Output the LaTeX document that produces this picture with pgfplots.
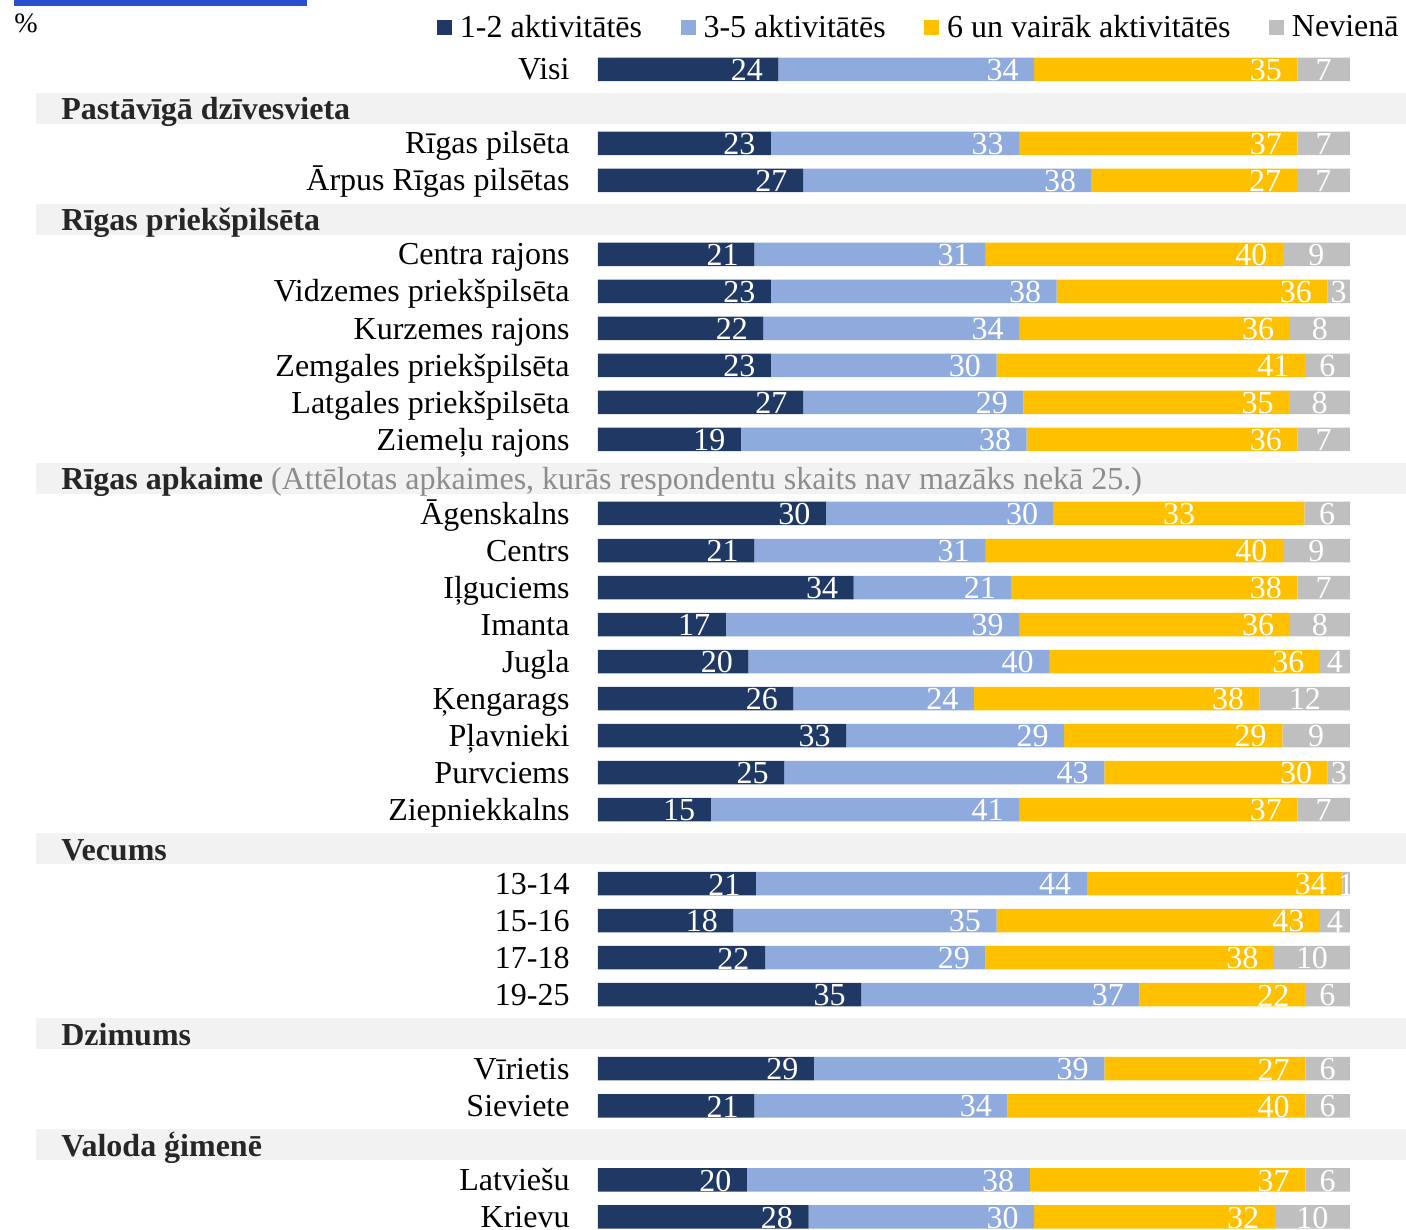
\documentclass[border=0pt]{standalone}
\usepackage{fontspec}
\setmainfont{Liberation Serif}
\usepackage{pgfplots}
\usepackage{pgfplotstable}
\pgfplotsset{compat=1.18}

\definecolor{cA}{HTML}{203864}
\definecolor{cB}{HTML}{8FAADC}
\definecolor{cC}{HTML}{FFC000}
\definecolor{cD}{HTML}{BFBFBF}
\definecolor{band}{HTML}{F2F2F2}
\definecolor{hcol}{HTML}{262626}
\definecolor{notecol}{HTML}{8C8C8C}
\definecolor{topblue}{HTML}{2A50D2}

\newcommand\mainfs{\fontsize{16pt}{19pt}\selectfont}
\newcommand\rsum{(\thisrow{a}+\thisrow{b}+\thisrow{c}+\thisrow{d})}

\pgfplotstableread{
r a b c d m
0 24 34 35 7 0
2 23 33 37 7 0
3 27 38 27 7 0
5 21 31 40 9 0
6 23 38 36 3 0
7 22 34 36 8 0
8 23 30 41 6 0
9 27 29 35 8 0
10 19 38 36 7 0
12 30 30 33 6 1
13 21 31 40 9 0
14 34 21 38 7 0
15 17 39 36 8 0
16 20 40 36 4 0
17 26 24 38 12 0
18 33 29 29 9 0
19 25 43 30 3 0
20 15 41 37 7 0
22 21 44 34 1 0
23 18 35 43 4 0
24 22 29 38 10 0
25 35 37 22 6 0
27 29 39 27 6 0
28 21 34 40 6 0
30 20 38 37 6 0
31 28 30 32 10 0
}\data

\pgfplotsset{
  base/.style={
    scale only axis, width=376pt, height=614.5pt,
    xmin=0, xmax=100, ymin=-1.872, ymax=31.33, y dir=reverse,
    clip=false, axis line style={draw=none}, tick style={draw=none},
    xtick=\empty,
    /pgf/number format/assume math mode=true,
  }
}

\begin{document}
\begin{tikzpicture}
\begin{axis}[base,
  xbar stacked, bar width=11.75pt,
  ytick={0,2,3,5,6,7,8,9,10,12,13,14,15,16,17,18,19,20,22,23,24,25,27,28,30,31},
  yticklabels={Visi,{Rīgas pilsēta},{Ārpus Rīgas pilsētas},{Centra rajons},{Vidzemes priekšpilsēta},{Kurzemes rajons},{Zemgales priekšpilsēta},{Latgales priekšpilsēta},{Ziemeļu rajons},Āgenskalns,Centrs,Iļguciems,Imanta,Jugla,Ķengarags,Pļavnieki,Purvciems,Ziepniekkalns,13-14,15-16,17-18,19-25,Vīrietis,Sieviete,Latviešu,Krievu},
  yticklabel style={font=\mainfs, text=black, anchor=base east, inner sep=0pt, xshift=-14pt, yshift=-5.3pt},
  legend columns=4,
  legend image code/.code={\fill[#1] (0pt,-3.75pt) rectangle (7.5pt,3.75pt);},
  legend style={at={(-0.2141,0.9776)}, anchor=west, draw=none, fill=none,
    inner sep=0pt, outer sep=0pt, font=\mainfs,
    nodes={inner sep=0pt},
    /tikz/every odd column/.append style={column sep=4pt},
    /tikz/every even column/.append style={column sep=19.2pt}},
]
% header bands
\fill[band] (axis cs:-74.73,0.63) rectangle (axis cs:107.45,1.47);
\fill[band] (axis cs:-74.73,3.63) rectangle (axis cs:107.45,4.47);
\fill[band] (axis cs:-74.73,10.63) rectangle (axis cs:107.45,11.47);
\fill[band] (axis cs:-74.73,20.63) rectangle (axis cs:107.45,21.47);
\fill[band] (axis cs:-74.73,25.63) rectangle (axis cs:107.45,26.47);
\fill[band] (axis cs:-74.73,28.63) rectangle (axis cs:107.45,29.47);
% top decoration
\fill[topblue] (axis cs:-77.66,-1.872) rectangle (axis cs:-38.70,-1.71);
\coordinate (BL) at (axis cs:-79.52,31.33);
\coordinate (TR) at (axis cs:107.45,-1.872);

\addplot[fill=cA, draw=none] table[x expr={100*\thisrow{a}/\rsum}, y=r]{\data};
\addplot[fill=cB, draw=none] table[x expr={100*\thisrow{b}/\rsum}, y=r]{\data};
\addplot[fill=cC, draw=none] table[x expr={100*\thisrow{c}/\rsum}, y=r]{\data};
\addplot[fill=cD, draw=none] table[x expr={100*\thisrow{d}/\rsum}, y=r]{\data};
\legend{1-2 aktivitātēs, 3-5 aktivitātēs, 6 un vairāk aktivitātēs, Nevienā}
\end{axis}

\begin{axis}[base, ytick=\empty,
  nodes near coords, point meta=explicit,
  nodes near coords style={anchor=center, inner sep=0pt, font=\mainfs, text=white, yshift=-0.4pt},
]
\node[anchor=base west, inner sep=0pt, font=\mainfs\bfseries, text=hcol] at (axis cs:-71.41,1.365) {Pastāvīgā dzīvesvieta};
\node[anchor=base west, inner sep=0pt, font=\mainfs\bfseries, text=hcol] at (axis cs:-71.41,4.365) {Rīgas priekšpilsēta};
\node[anchor=base west, inner sep=0pt, font=\mainfs, text=hcol] at (axis cs:-71.41,11.365) {\textbf{Rīgas apkaime} {\color{notecol}(Attēlotas apkaimes, kurās respondentu skaits nav mazāks nekā 25.)}};
\node[anchor=base west, inner sep=0pt, font=\mainfs\bfseries, text=hcol] at (axis cs:-71.41,21.365) {Vecums};
\node[anchor=base west, inner sep=0pt, font=\mainfs\bfseries, text=hcol] at (axis cs:-71.41,26.365) {Dzimums};
\node[anchor=base west, inner sep=0pt, font=\mainfs\bfseries, text=hcol] at (axis cs:-71.41,29.365) {Valoda ģimenē};
\node[anchor=base west, inner sep=0pt, font=\fontsize{14pt}{16pt}\selectfont, text=black] at (axis cs:-77.66,-1.0076) {\%};
\addplot[only marks, mark=*, mark size=0pt, mark options={draw=none, fill=none}]
  table[x expr={100*\thisrow{a}/\rsum-4.2}, y=r, meta=a]{\data};
\addplot[only marks, mark=*, mark size=0pt, mark options={draw=none, fill=none}]
  table[x expr={100*(\thisrow{a}+\thisrow{b})/\rsum-4.2}, y=r, meta=b]{\data};
\addplot[only marks, mark=*, mark size=0pt, mark options={draw=none, fill=none}]
  table[x expr={100*(\thisrow{a}+\thisrow{b}+\thisrow{c})/\rsum-(1-\thisrow{m})*4.2-\thisrow{m}*50*\thisrow{c}/\rsum}, y=r, meta=c]{\data};
\addplot[only marks, mark=*, mark size=0pt, mark options={draw=none, fill=none}]
  table[x expr={100-50*\thisrow{d}/\rsum}, y=r, meta=d]{\data};
\end{axis}
\pgfresetboundingbox
\path (BL) rectangle (TR);
\end{tikzpicture}
\end{document}
